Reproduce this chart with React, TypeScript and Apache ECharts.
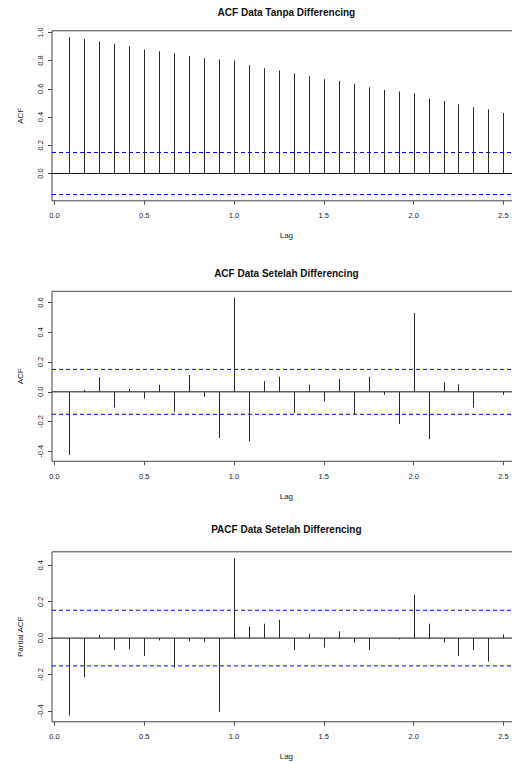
import React, { useEffect, useRef } from "react";
import * as echarts from "echarts";

const FONT = '"Liberation Sans", Arial, Helvetica, sans-serif';

// lags in years (monthly data, k/12)
const LAGS: number[] = Array.from({ length: 30 }, (_, i) => (i + 1) / 12);

const ACF_RAW: number[] = [
  0.967, 0.953, 0.936, 0.919, 0.903, 0.879, 0.867, 0.853, 0.834, 0.818,
  0.808, 0.801, 0.768, 0.746, 0.73, 0.709, 0.69, 0.668, 0.656, 0.635,
  0.611, 0.592, 0.581, 0.569, 0.531, 0.514, 0.491, 0.469, 0.455, 0.429,
];

const ACF_DIFF: number[] = [
  -0.425, 0.013, 0.098, -0.105, 0.02, -0.045, 0.047, -0.134, 0.114, -0.034,
  -0.311, 0.634, -0.334, 0.072, 0.101, -0.141, 0.049, -0.065, 0.087, -0.15,
  0.101, -0.02, -0.217, 0.53, -0.318, 0.065, 0.051, -0.105, 0.0, -0.02,
];

const PACF_DIFF: number[] = [
  -0.426, -0.217, 0.017, -0.066, -0.062, -0.099, -0.013, -0.163, -0.018, -0.022,
  -0.406, 0.44, 0.064, 0.079, 0.101, -0.066, 0.024, -0.053, 0.037, -0.026,
  -0.066, 0.0, -0.007, 0.239, 0.079, -0.024, -0.099, -0.066, -0.13, 0.02,
];

const CLIM: number[] = [0.149, 0.151, 0.153];

const TITLES: string[] = [
  "ACF Data Tanpa Differencing",
  "ACF Data Setelah Differencing",
  "PACF Data Setelah Differencing",
];
const Y_NAMES: string[] = ["ACF", "ACF", "Partial ACF"];
const X_TICKS: number[] = [0, 0.5, 1.0, 1.5, 2.0, 2.5];
const Y_TICKS: number[][] = [
  [0, 0.2, 0.4, 0.6, 0.8, 1.0],
  [-0.4, -0.2, 0, 0.2, 0.4, 0.6],
  [-0.4, -0.2, 0, 0.2, 0.4],
];

const SERIES: number[][] = [ACF_RAW, ACF_DIFF, PACF_DIFF];

// layout
const GRID_LEFT = 52;
const GRID_TOPS = [30.8, 291.3, 551.8];
const GRID_H = 170;
const TITLE_Y = [12.7, 273, 529.7];

function extend(lo: number, hi: number): [number, number] {
  const d = (hi - lo) * 0.04;
  return [lo - d, hi + d];
}

const X_RANGE = extend(LAGS[0], LAGS[LAGS.length - 1]);
const PX_PER_UNIT = 179.6;
const GRID_W = (X_RANGE[1] - X_RANGE[0]) * PX_PER_UNIT;
const CHART_W = 540;

export default function App() {
  const ref = useRef<HTMLDivElement>(null);

  useEffect(() => {
    if (!ref.current) return;
    const chart = echarts.init(ref.current, null, { renderer: "svg" });

    const grids: any[] = [];
    const xAxes: any[] = [];
    const yAxes: any[] = [];
    const series: any[] = [];
    const graphics: any[] = [];

    SERIES.forEach((vals, i) => {
      const clim = CLIM[i];
      const yr = extend(Math.min(...vals, -clim), Math.max(...vals, clim));
      grids.push({
        left: GRID_LEFT,
        top: GRID_TOPS[i],
        width: GRID_W,
        height: GRID_H,
        show: true,
        borderColor: "#444",
        borderWidth: 1,
        backgroundColor: "transparent",
      });
      xAxes.push({
        type: "value",
        gridIndex: i,
        min: X_RANGE[0],
        max: X_RANGE[1],
        name: "Lag",
        nameLocation: "middle",
        nameGap: 31,
        nameTextStyle: { fontFamily: FONT, fontSize: 8, color: "#222" },
        axisLine: { show: false, onZero: false },
        splitLine: { show: false },
        axisTick: {
          show: true,
          inside: false,
          length: 4,
          customValues: X_TICKS,
          lineStyle: { color: "#555", width: 1 },
        },
        axisLabel: {
          show: true,
          customValues: X_TICKS,
          margin: 11,
          fontFamily: FONT,
          fontSize: 7.5,
          color: "#222",
          formatter: (v: number) => v.toFixed(1),
        },
      });
      yAxes.push({
        type: "value",
        gridIndex: i,
        min: yr[0],
        max: yr[1],
        name: Y_NAMES[i],
        nameLocation: "middle",
        nameRotate: 90,
        nameGap: 28,
        nameTextStyle: { fontFamily: FONT, fontSize: 8, color: "#222" },
        axisLine: { show: false, onZero: false },
        splitLine: { show: false },
        axisTick: {
          show: true,
          inside: false,
          length: 4,
          customValues: Y_TICKS[i],
          lineStyle: { color: "#444", width: 1 },
        },
        axisLabel: {
          show: true,
          customValues: Y_TICKS[i],
          rotate: 90,
          margin: 8,
          fontFamily: FONT,
          fontSize: 7.5,
          color: "#222",
          formatter: (v: number) => v.toFixed(1),
        },
      });
      // horizontal reference lines: zero (black) and +/- confidence limits (blue dashed)
      const hLines: { y: number; color: string; type: any }[] = [
        { y: 0, color: "#111", type: "solid" },
        { y: clim, color: "#0000ff", type: [4, 3] },
        { y: -clim, color: "#0000ff", type: [4, 3] },
      ];
      hLines.forEach((h) => {
        series.push({
          type: "line",
          xAxisIndex: i,
          yAxisIndex: i,
          silent: true,
          symbol: "none",
          data: [
            [X_RANGE[0], h.y],
            [X_RANGE[1], h.y],
          ],
          lineStyle: { color: h.color, width: 1, type: h.type },
          z: 1,
        });
      });
      series.push({
        type: "custom",
        xAxisIndex: i,
        yAxisIndex: i,
        z: 2,
        data: LAGS.map((l, k) => [l, vals[k]]),
        renderItem: (_p: any, api: any) => {
          const x = api.value(0);
          const y = api.value(1);
          const p0 = api.coord([x, 0]);
          const p1 = api.coord([x, y]);
          const px = Math.round(p0[0]) + 0.5;
          return {
            type: "line",
            shape: { x1: px, y1: p0[1], x2: px, y2: p1[1] },
            style: { stroke: "#2a2a2a", lineWidth: 1 },
          };
        },
      });
      graphics.push({
        type: "text",
        x: GRID_LEFT + GRID_W / 2,
        y: TITLE_Y[i],
        style: {
          text: TITLES[i],
          fontFamily: FONT,
          fontSize: 10,
          fontWeight: "bold",
          fill: "#111",
          align: "center",
          verticalAlign: "middle",
        },
      });
    });

    chart.setOption({
      animation: false,
      backgroundColor: "#ffffff",
      grid: grids,
      xAxis: xAxes,
      yAxis: yAxes,
      series,
      graphic: graphics,
    });

    return () => chart.dispose();
  }, []);

  return (
    <div
      ref={ref}
      style={{ position: "fixed", left: 0, top: 0, width: CHART_W, height: 762 }}
    />
  );
}
